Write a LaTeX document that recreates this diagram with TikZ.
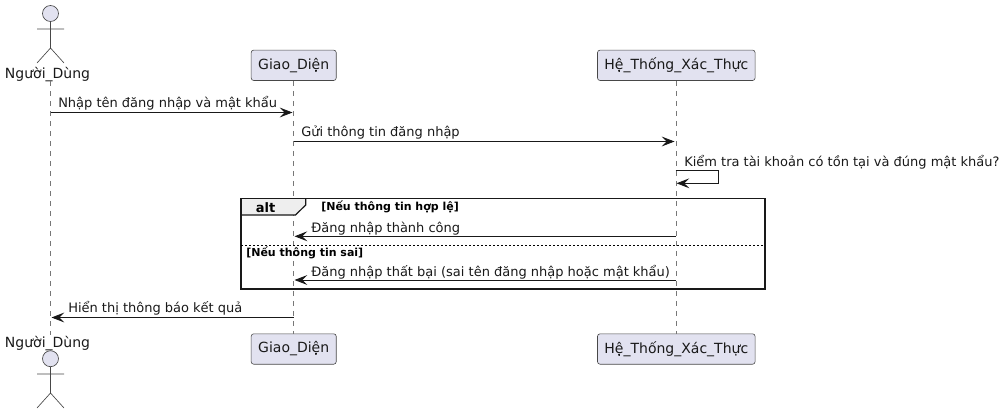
\documentclass[tikz,border=0pt]{standalone}
\usepackage{fontspec}
\setmainfont{DejaVu Sans}
\usetikzlibrary{arrows.meta}
\definecolor{partfill}{HTML}{E2E2F0}
\definecolor{partline}{HTML}{484848}
\definecolor{lifeline}{HTML}{777777}
\definecolor{tabfill}{HTML}{EEEEEE}
\tikzset{
  part/.style={draw=partline,fill=partfill,rounded corners=1.9pt,line width=0.45pt,inner sep=0pt,
    minimum height=22.8pt,font=\fontsize{10.5pt}{12pt}\selectfont,text=black!90},
  actorname/.style={inner sep=0pt,font=\fontsize{10.5pt}{12pt}\selectfont,text=black!90,anchor=base},
  actorline/.style={draw=partline,line width=0.5pt},
  life/.style={draw=lifeline,line width=0.4pt,dash pattern=on 3.75pt off 3.75pt},
  msg/.style={draw=black!90,line width=0.7pt,-{Stealth[length=9.6pt,width=7.4pt,inset=3.8pt]}},
  msgtext/.style={inner sep=0pt,anchor=base west,font=\fontsize{9.74pt}{12pt}\selectfont,text=black!90},
  condtext/.style={inner sep=0pt,anchor=base west,font=\fontsize{8.25pt}{10pt}\selectfont\bfseries,text=black},
  frameline/.style={draw=black!90,line width=1.45pt},
}
\begin{document}
\begin{tikzpicture}[x=0.75pt,y=-0.75pt]
\useasboundingbox (0,0) rectangle (1005,414);
% participants
\node[actorname] (ut) at (47.5,78) {Người\_Dùng};
\node[actorname] (ub) at (47.5,347) {Người\_Dùng};
\node[part,minimum width=63.8pt] (gt) at (293.7,65.3) {Giao\_Diện};
\node[part,minimum width=63.8pt] (gb) at (293.7,349) {Giao\_Diện};
\node[part,minimum width=118.2pt] (ht) at (676.3,65.3) {Hệ\_Thống\_Xác\_Thực};
\node[part,minimum width=118.2pt] (hb) at (676.3,349) {Hệ\_Thống\_Xác\_Thực};
% lifelines
\coordinate (ulifet) at (50.5,81);
\coordinate (ulifeb) at (50.5,335);
\draw[life] (ulifet) -- (ulifeb);
\draw[life] (gt.south) -- (gb.north);
\draw[life] (ht.south) -- (hb.north);
% actors
\draw[actorline,fill=partfill] (50.5,13.5) circle (8);
\draw[actorline] (50.5,21.5) -- (50.5,48) (37,29) -- (64,29) (37,63) -- (50.5,48) -- (64,63);
\draw[actorline,fill=partfill] (50.5,358.7) circle (8);
\draw[actorline] (50.5,366.7) -- (50.5,393) (37,374) -- (64,374) (37,408) -- (50.5,393) -- (64,408);
% frame
\fill[tabfill] (241,198.5) -- (305.7,198.5) -- (305.7,205) -- (295.5,215) -- (241,215) -- cycle;
\draw[frameline] (241,198.5) rectangle (765,288.7);
\draw[frameline,line width=0.9pt] (241,215) -- (295.5,215) -- (305.7,205) -- (305.7,198.5);
\draw[draw=black,line width=0.6pt,dash pattern=on 1.5pt off 1.5pt] (241,245) -- (765,245);
\node[inner sep=0pt,anchor=base,font=\fontsize{9.75pt}{12pt}\selectfont\bfseries] (alt) at (265.5,212) {alt};
\node[condtext] (c1) at (321,210) {[Nếu thông tin hợp lệ]};
\node[condtext] (c2) at (246,256) {[Nếu thông tin sai]};
% message end points on the lifelines
\coordinate (m1a) at (50.5,112.5);   \coordinate (m1b) at (292.5,112.5);
\coordinate (m2a) at (293.5,141.5);  \coordinate (m2b) at (674.5,141.5);
\coordinate (m3a) at (675.5,170);    \coordinate (m3b) at (676.5,183.3);
\coordinate (m3c) at (718.6,170);    \coordinate (m3d) at (718.6,183.3);
\coordinate (m4a) at (675.5,236.3);  \coordinate (m4b) at (294.5,236.3);
\coordinate (m5a) at (675.5,280);    \coordinate (m5b) at (294.5,280);
\coordinate (m6a) at (293.5,317.5);  \coordinate (m6b) at (51.5,317.5);
\draw[msg] (m1a) -- (m1b);
\draw[msg] (m2a) -- (m2b);
\draw[msg] (m3a) -- (m3c) -- (m3d) -- (m3b);
\draw[msg] (m4a) -- (m4b);
\draw[msg] (m5a) -- (m5b);
\draw[msg] (m6a) -- (m6b);
% labels
\node[msgtext] (t1) at (58,107) {Nhập tên đăng nhập và mật khẩu};
\node[msgtext] (t2) at (301,136) {Gửi thông tin đăng nhập};
\node[msgtext] (t3) at (684,166) {Kiểm tra tài khoản có tồn tại và đúng mật khẩu?};
\node[msgtext] (t4) at (311,232) {Đăng nhập thành công};
\node[msgtext] (t5) at (311,276) {Đăng nhập thất bại (sai tên đăng nhập hoặc mật khẩu)};
\node[msgtext] (t6) at (68,312) {Hiển thị thông báo kết quả};
\end{tikzpicture}
\end{document}
